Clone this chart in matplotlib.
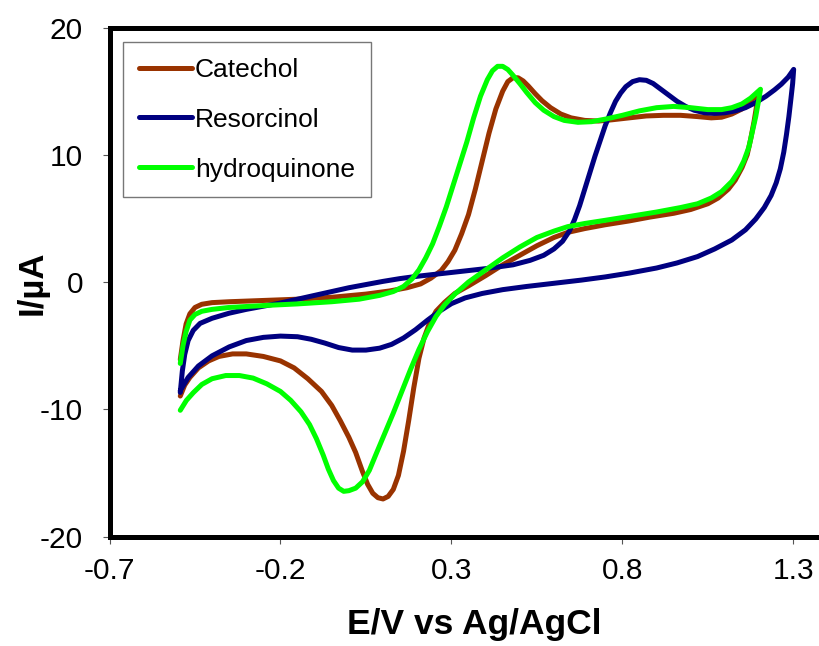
#!/usr/bin/env python3
# Cyclic voltammograms of catechol, resorcinol and hydroquinone

import matplotlib
matplotlib.use('Agg')
import matplotlib.pyplot as plt


# DATA ------------------------------------------------------------------------

# Each curve: forward (anodic) sweep, then the reverse sweep back to start.
catechol_e = [-0.493, -0.485, -0.476, -0.465, -0.450, -0.430, -0.400, -0.350,
              -0.250, -0.150, -0.050, 0.050, 0.120, 0.170, 0.210, 0.240,
              0.270, 0.290, 0.310, 0.330, 0.350, 0.370, 0.390, 0.410, 0.430,
              0.450, 0.465, 0.480, 0.495, 0.510, 0.525, 0.545, 0.565, 0.590,
              0.620, 0.650, 0.690, 0.730, 0.770, 0.820, 0.870, 0.920, 0.970,
              1.020, 1.060, 1.090, 1.120, 1.150, 1.175, 1.200,
              1.193, 1.185, 1.175, 1.165, 1.150, 1.130, 1.110, 1.080, 1.050,
              1.000, 0.950, 0.880, 0.820, 0.750, 0.690, 0.640, 0.600, 0.550,
              0.500, 0.450, 0.400, 0.350, 0.310, 0.280, 0.255, 0.235, 0.220,
              0.205, 0.190, 0.175, 0.160, 0.145, 0.130, 0.115, 0.100, 0.085,
              0.070, 0.055, 0.040, 0.020, 0.000, -0.025, -0.050, -0.080,
              -0.120, -0.160, -0.200, -0.250, -0.300, -0.340, -0.380, -0.410,
              -0.440, -0.465, -0.480, -0.493]
catechol_i = [-6.1, -4.6, -3.3, -2.5, -2.0, -1.75, -1.62, -1.55,
              -1.45, -1.35, -1.2, -0.95, -0.7, -0.45, -0.15, 0.3,
              0.9, 1.6, 2.5, 3.8, 5.3, 7.3, 9.5, 11.7, 13.6,
              15.0, 15.75, 16.05, 16.05, 15.8, 15.4, 14.8, 14.25, 13.7,
              13.2, 12.9, 12.7, 12.65, 12.75, 12.9, 13.05, 13.1, 13.1,
              13.0, 12.9, 12.95, 13.2, 13.6, 14.2, 14.95,
              13.9, 12.6, 11.2, 10.0, 9.0, 8.0, 7.3, 6.6, 6.15,
              5.7, 5.4, 5.1, 4.8, 4.5, 4.2, 3.9, 3.5, 2.85,
              2.1, 1.35, 0.5, -0.3, -0.9, -1.6, -2.3, -3.3, -4.4,
              -6.0, -8.3, -10.9, -13.3, -15.2, -16.3, -16.85, -17.05, -16.95,
              -16.6, -15.9, -14.9, -13.4, -12.2, -10.9, -9.7, -8.6,
              -7.6, -6.75, -6.2, -5.85, -5.65, -5.65, -5.85, -6.2,
              -6.75, -7.5, -8.1, -8.96]

resorcinol_e = [-0.493, -0.487, -0.480, -0.470, -0.455, -0.435, -0.400,
                -0.350, -0.300, -0.250, -0.200, -0.150, -0.100, -0.050,
                0.000, 0.050, 0.100, 0.150, 0.200, 0.300, 0.400, 0.480,
                0.530, 0.570, 0.600, 0.625, 0.645, 0.660, 0.675, 0.690,
                0.705, 0.720, 0.735, 0.750, 0.765, 0.780, 0.795, 0.810,
                0.830, 0.850, 0.870, 0.890, 0.910, 0.935, 0.960, 0.985,
                1.010, 1.040, 1.070, 1.100, 1.130, 1.160, 1.190, 1.220,
                1.245, 1.265, 1.285, 1.301,
                1.298, 1.293, 1.287, 1.280, 1.272, 1.262, 1.250, 1.235,
                1.215, 1.190, 1.160, 1.120, 1.070, 1.020, 0.960, 0.900,
                0.820, 0.750, 0.680, 0.600, 0.520, 0.450, 0.390, 0.340,
                0.300, 0.265, 0.230, 0.195, 0.160, 0.125, 0.090, 0.050,
                0.010, -0.030, -0.070, -0.110, -0.150, -0.200, -0.250,
                -0.300, -0.350, -0.400, -0.440, -0.470, -0.493]
resorcinol_i = [-8.68, -7.0, -5.7, -4.6, -3.8, -3.25, -2.85,
                -2.45, -2.15, -1.9, -1.65, -1.35, -1.05, -0.75,
                -0.45, -0.2, 0.05, 0.27, 0.45, 0.75, 1.05, 1.35,
                1.7, 2.1, 2.6, 3.2, 4.0, 4.9, 6.0, 7.3,
                8.6, 9.9, 11.1, 12.3, 13.3, 14.2, 14.85, 15.35,
                15.75, 15.9, 15.85, 15.6, 15.2, 14.7, 14.2, 13.8,
                13.5, 13.3, 13.25, 13.3, 13.45, 13.7, 14.1, 14.6,
                15.1, 15.55, 16.1, 16.71,
                15.6, 14.4, 13.0, 11.6, 10.2, 8.9, 7.8, 6.8,
                5.85, 4.95, 4.1, 3.3, 2.6, 2.0, 1.5, 1.1,
                0.7, 0.4, 0.15, -0.1, -0.35, -0.6, -0.9, -1.25,
                -1.7, -2.3, -3.0, -3.75, -4.4, -4.9, -5.2, -5.35,
                -5.35, -5.15, -4.8, -4.5, -4.3, -4.25, -4.35,
                -4.6, -5.1, -5.8, -6.6, -7.5, -8.54]

hydroquinone_e = [-0.493, -0.485, -0.476, -0.465, -0.450, -0.430, -0.400,
                  -0.350, -0.250, -0.150, -0.050, 0.030, 0.090, 0.130,
                  0.160, 0.185, 0.205, 0.225, 0.245, 0.265, 0.285, 0.305,
                  0.325, 0.345, 0.365, 0.385, 0.405, 0.420, 0.435, 0.450,
                  0.465, 0.480, 0.500, 0.520, 0.545, 0.570, 0.600, 0.630,
                  0.670, 0.710, 0.750, 0.800, 0.850, 0.900, 0.950, 1.000,
                  1.050, 1.090, 1.120, 1.150, 1.175, 1.204,
                  1.198, 1.190, 1.180, 1.170, 1.155, 1.140, 1.120, 1.090,
                  1.060, 1.020, 0.970, 0.900, 0.820, 0.750, 0.690, 0.640,
                  0.600, 0.550, 0.500, 0.450, 0.400, 0.350, 0.310, 0.280,
                  0.255, 0.230, 0.205, 0.180, 0.155, 0.130, 0.105, 0.080,
                  0.060, 0.040, 0.020, 0.000, -0.015, -0.030, -0.045,
                  -0.060, -0.075, -0.095, -0.115, -0.140, -0.170, -0.200,
                  -0.240, -0.280, -0.320, -0.360, -0.400, -0.430, -0.455,
                  -0.475, -0.493]
hydroquinone_i = [-6.4, -5.0, -3.9, -3.0, -2.55, -2.3, -2.15,
                  -2.0, -1.85, -1.72, -1.55, -1.35, -1.05, -0.75,
                  -0.35, 0.25, 0.95, 1.9, 3.0, 4.4, 5.9, 7.6,
                  9.3, 11.0, 12.9, 14.6, 15.9, 16.6, 16.95, 16.95,
                  16.7, 16.25, 15.6, 14.9, 14.1, 13.5, 13.0, 12.7,
                  12.55, 12.6, 12.8, 13.1, 13.45, 13.7, 13.8, 13.7,
                  13.55, 13.55, 13.7, 14.0, 14.45, 15.15,
                  14.2, 13.0, 11.8, 10.6, 9.5, 8.7, 7.9, 7.1,
                  6.6, 6.15, 5.85, 5.5, 5.15, 4.85, 4.6, 4.35,
                  4.0, 3.5, 2.75, 1.9, 0.95, 0.0, -0.95, -1.8,
                  -2.7, -3.9, -5.3, -6.9, -8.6, -10.3, -11.9, -13.5,
                  -14.8, -15.7, -16.2, -16.4, -16.45, -16.2, -15.6,
                  -14.7, -13.6, -12.3, -11.2, -10.2, -9.3, -8.6,
                  -8.0, -7.55, -7.35, -7.35, -7.6, -8.05, -8.7,
                  -9.3, -10.08]

series_names = ['Catechol', 'Resorcinol', 'hydroquinone']
series_colors = ['#993300', '#000080', '#00ff00']

x_ticks = [-0.7, -0.2, 0.3, 0.8, 1.3]
y_ticks = [-20, -10, 0, 10, 20]


# PLOT ------------------------------------------------------------------------

plt.rcParams['font.family'] = ['Liberation Sans', 'DejaVu Sans']
plt.rcParams['axes.unicode_minus'] = False

fig = plt.figure(figsize=(8.19, 6.46), dpi=100)
# right spine sits just past the image edge, as in the original
ax = fig.add_axes([0.1337, 0.1695, 0.8767, 0.7879])

curves = [(catechol_e, catechol_i),
          (resorcinol_e, resorcinol_i),
          (hydroquinone_e, hydroquinone_i)]
for (e, i), name, color in zip(curves, series_names, series_colors):
    ax.plot(e, i, color=color, lw=3.6, label=name,
            solid_joinstyle='round', solid_capstyle='round')

ax.set_xlim(-0.7, 1.4)
ax.set_ylim(-20, 20)
ax.set_xticks(x_ticks)
ax.set_xticklabels([f'{t:g}' for t in x_ticks])
ax.set_yticks(y_ticks)

for side in ax.spines.values():
    side.set_linewidth(3.6)
    side.set_color('black')

ax.tick_params(direction='out', length=5, width=0.8, color='#555555',
               labelsize=21.5)
ax.tick_params(axis='x', pad=10)
ax.tick_params(axis='y', pad=14)

fig.text(0.579, 0.018, 'E/V vs Ag/AgCl', fontsize=25.5, fontweight='bold',
         ha='center', va='baseline')
fig.text(0.039, 0.563, 'I/\u00b5A', fontsize=25, fontweight='bold',
         ha='center', va='center', rotation=90)

leg = ax.legend(loc='upper left', bbox_to_anchor=(0.0188, 0.9715),
                borderaxespad=0, fontsize=19, frameon=True, fancybox=False,
                handlelength=2.0, handletextpad=0.12, labelspacing=0.98,
                borderpad=0.6)
leg.get_frame().set_edgecolor('#555555')
leg.get_frame().set_linewidth(1.0)

fig.savefig('out.png', dpi=100)
plt.close(fig)
